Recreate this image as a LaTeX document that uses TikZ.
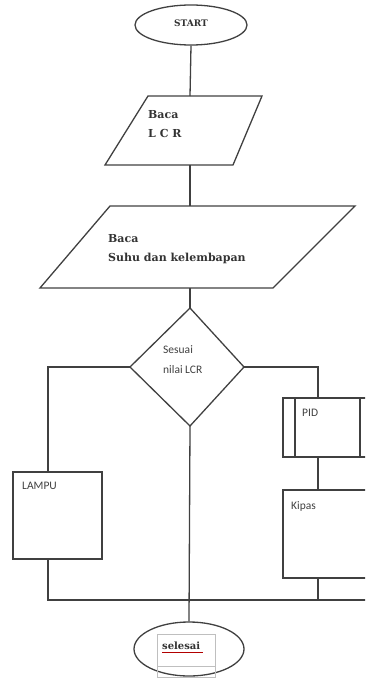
\documentclass[tikz,border=0pt]{standalone}
\usepackage{fontspec}
\setmainfont{DejaVu Serif}
\newfontfamily\smallsans{Carlito}
\usetikzlibrary{shapes.geometric}
\tikzset{
  ln/.style={draw=black!75, line width=1.3pt},
  serifbold/.style={font=\bfseries\fontsize{11}{13}\selectfont, text=black!80, inner sep=0pt, anchor=base west},
  smalltext/.style={font=\smallsans\fontsize{11.5}{13}\selectfont, text=black!75, inner sep=0pt, anchor=base west},
  terminal/.style={ellipse, ln, inner sep=0pt},
  boxshape/.style={ln}
}
\begin{document}
\begin{tikzpicture}[x=1pt,y=-1pt]
\useasboundingbox (0,0) rectangle (365,679);
\clip (0,0) rectangle (365,679);
% START
\node[terminal, minimum width=112pt, minimum height=40pt] (start) at (191,25) {};
\node[serifbold, anchor=center, font=\bfseries\fontsize{9}{10}\selectfont] (starttxt) at (191,23) {START};
% Parallelogram 1
\draw[ln] (148,96) -- (262,96) -- (233,165) -- (105,165) -- cycle;
\coordinate (p1top) at (190,96);
\coordinate (p1bot) at (190,165);
\node[serifbold] (p1a) at (148,119) {Baca};
\node[serifbold] (p1b) at (148,138) {L C R};
% Parallelogram 2
\draw[ln] (110,206) -- (355,206) -- (273,288) -- (40,288) -- cycle;
\coordinate (p2top) at (190,206);
\coordinate (p2bot) at (190,288);
\node[serifbold] (p2a) at (108,242) {Baca};
\node[serifbold] (p2b) at (108,261) {Suhu dan kelembapan};
% Diamond
\draw[ln] (190,308) -- (244,367) -- (190,426) -- (130,367) -- cycle;
\coordinate (dtop) at (190,308);
\coordinate (dleft) at (130,367);
\coordinate (dright) at (244,367);
\coordinate (dbot) at (190,426);
\node[smalltext] (d1) at (163,353) {Sesuai};
\node[smalltext] (d2) at (163,373) {nilai LCR};
% LAMPU
\draw[ln] (13,472) rectangle (102,559);
\coordinate (lampin) at (48,472);
\coordinate (lampout) at (48,559);
\node[smalltext] (lamptxt) at (22,489) {LAMPU};
% PID
\draw[ln] (283,398) rectangle (375,457);
\draw[ln] (295,398) -- (295,457);
\draw[ln] (360,398) -- (360,457);
\coordinate (pidin) at (318,398);
\coordinate (pidout) at (318,457);
\node[smalltext] (pidtxt) at (302,416) {PID};
% Kipas
\draw[ln] (283,490) rectangle (375,578);
\coordinate (kipin) at (318,490);
\coordinate (kipout) at (318,578);
\node[smalltext] (kiptxt) at (291,509) {Kipas};
% selesai
\node[terminal, minimum width=110pt, minimum height=54pt] (end) at (189,649) {};
\draw[black!25, line width=0.5pt] (157,634) rectangle (215,677);
\draw[black!25, line width=0.5pt] (157,666) -- (215,666);
\node[serifbold, font=\bfseries\fontsize{10}{12}\selectfont] (endtxt) at (162,649) {selesai};
\draw[red!70!black, line width=0.5pt] (162,652) -- (203,652);
% connectors
\coordinate (br) at (366,600);
\draw[ln] (start.south) -- (p1top);
\draw[ln] (p1bot) -- (p2top);
\draw[ln] (p2bot) -- (dtop);
\draw[ln] (dleft) -| (lampin);
\draw[ln] (dright) -| (pidin);
\draw[ln] (pidout) -- (kipin);
\draw[ln] (dbot) -- (end.north);
\draw[ln] (lampout) |- (br);
\draw[ln] (kipout) -- (kipout |- br);
\end{tikzpicture}
\end{document}
